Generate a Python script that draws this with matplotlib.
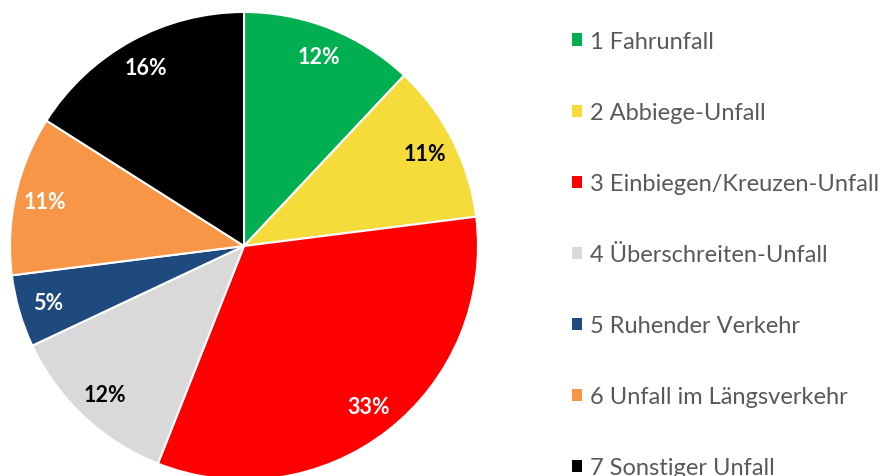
import matplotlib.pyplot as plt

labels = ["1 Fahrunfall", "2 Abbiege-Unfall", "3 Einbiegen/Kreuzen-Unfall",
          "4 Überschreiten-Unfall", "5 Ruhender Verkehr",
          "6 Unfall im Längsverkehr", "7 Sonstiger Unfall"]
shares = [12, 11, 33, 12, 5, 11, 16]
colors = ["#00B050", "#F5DC3A", "#FF0000", "#D9D9D9", "#1F4A7D", "#F79646", "#000000"]
pct_colors = ["white", "black", "white", "black", "white", "white", "white"]

plt.rcParams['font.family'] = ['Lato', 'DejaVu Sans']

fig = plt.figure(figsize=(8.84, 4.77), dpi=100)
ax = fig.add_axes([10 / 884, -4 / 477, 468 / 884, 468 / 477])

wedges, texts, autotexts = ax.pie(
    shares, colors=colors, startangle=90, counterclock=False,
    autopct="%1.0f%%", pctdistance=0.87, radius=1,
    wedgeprops=dict(edgecolor="white", linewidth=1.5),
    textprops=dict(fontsize=15.5, fontweight="bold"))
for t, c in zip(autotexts, pct_colors):
    t.set_color(c)
ax.set_xlim(-1, 1)
ax.set_ylim(-1, 1)
ax.set_aspect("equal")

leg = fig.legend(wedges, labels, loc="upper left",
                 bbox_to_anchor=(572 / 884, 1 - 32 / 477),
                 frameon=False, fontsize=17, labelcolor="#595959",
                 handlelength=0.42, handleheight=0.42, handletextpad=0.35,
                 labelspacing=2.12, borderpad=0, borderaxespad=0)
for h in leg.legend_handles:
    h.set_edgecolor("none")

fig.savefig("out.png", dpi=100)
